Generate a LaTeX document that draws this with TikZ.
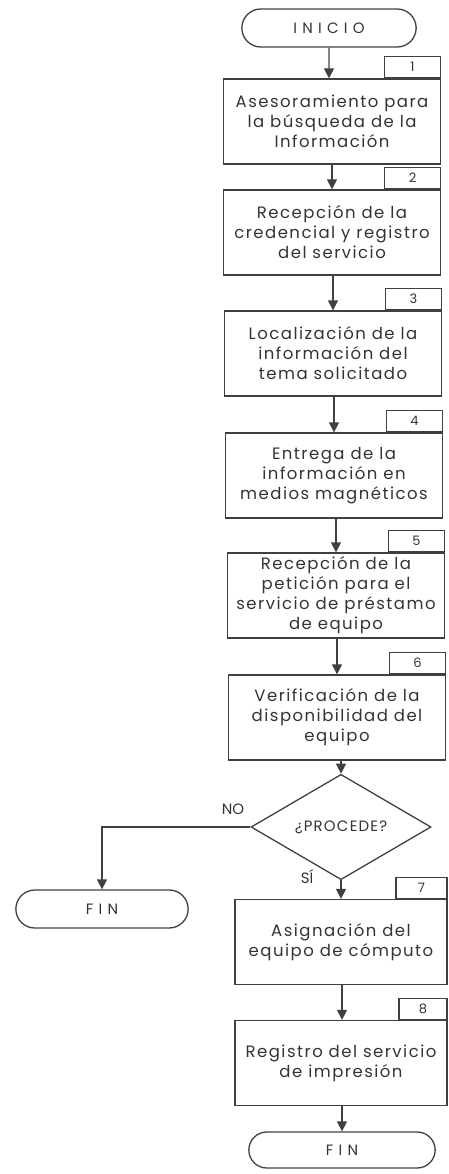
\documentclass[tikz,border=0pt]{standalone}
\usepackage{fontspec}
\setmainfont{Poppins}
\usetikzlibrary{arrows.meta,positioning,shapes.geometric,shapes.misc}

\tikzset{
    paso/.style={draw=black!75, line width=1.3pt, minimum width=217pt, minimum height=85pt,
        align=center, inner sep=1pt, text=black!80,
        font=\fontsize{16.5}{20}\selectfont\addfontfeatures{LetterSpace=9}},
    num/.style={draw=black!75, line width=1.3pt, minimum width=56pt, minimum height=21pt,
        anchor=south east, inner sep=0pt, text=black!80, font=\fontsize{13}{14}\selectfont},
    terminal/.style={rounded rectangle, draw=black!75, line width=1.3pt, minimum height=38pt,
        text=black!80, font=\fontsize{15}{16}\selectfont\addfontfeatures{LetterSpace=35}},
    decision/.style={diamond, draw=black!75, line width=1.3pt, minimum width=180pt,
        minimum height=77pt, inner sep=0pt, text=black!80,
        font=\fontsize{15}{16}\selectfont\addfontfeatures{LetterSpace=8}},
    flecha/.style={draw=black!75, line width=1.3pt, -{Triangle[width=10pt,length=10pt]}},
    rotulo/.style={text=black!80, font=\fontsize{15}{16}\selectfont}
}

\begin{document}
\begin{tikzpicture}[x=1pt,y=-1pt]
    \useasboundingbox (0,0) rectangle (448,1174);

    % Inicio
    \node[terminal, minimum width=181pt] (inicio) at (329,28) {INICIO};

    % Pasos 1 a 6
    \node[paso] (p1) at (332,121.5) {Asesoramiento para\\la búsqueda de la\\Información};
    \node[paso] (p2) at (332,232.5) {Recepción de la\\credencial y registro\\del servicio};
    \node[paso] (p3) at (333,353.5) {Localización de la\\información del\\tema solicitado};
    \node[paso] (p4) at (334,475.5) {Entrega de la\\información en\\medios magnéticos};
    \node[paso] (p5) at (336,595.5) {Recepción de la\\petición para el\\servicio de préstamo\\de equipo};
    \node[paso] (p6) at (337,717.5) {Verificación de la\\disponibilidad del\\equipo};

    % Decision
    \node[decision] (dec) at (341,827) {¿PROCEDE?};
    \node[terminal, minimum width=179pt] (fin1) at (102,909) {FIN};

    % Pasos 7 y 8
    \node[paso, minimum width=212pt] (p7) at (341,942) {Asignación del\\equipo de cómputo};
    \node[paso, minimum width=212pt] (p8) at (341,1063) {Registro del servicio\\de impresión};

    % Fin
    \node[terminal, minimum width=193pt, minimum height=36pt] (fin2) at (342,1150) {FIN};

    % Numeros
    \node[num] (n1) at (p1.north east) {1};
    \node[num] (n2) at (p2.north east) {2};
    \node[num] (n3) at (p3.north east) {3};
    \node[num] (n4) at (p4.north east) {4};
    \node[num] (n5) at (p5.north east) {5};
    \node[num] (n6) at (p6.north east) {6};
    \node[num, minimum width=51pt] (n7) at (p7.north east) {7};
    \node[num, minimum width=48pt] (n8) at (p8.north east) {8};

    % Flechas
    \draw[flecha] (inicio) -- (inicio |- p1.north);
    \draw[flecha] (p1.south -| p2) -- (p2.north);
    \draw[flecha] (p2.south -| p3) -- (p3.north);
    \draw[flecha] (p3.south -| p4) -- (p4.north);
    \draw[flecha] (p4.south -| p5) -- (p5.north);
    \draw[flecha] (p5.south -| p6) -- (p6.north);
    \draw[flecha] (p6.south -| dec) -- (dec.north);
    \draw[flecha] (dec.south) -- (p7.north -| dec);
    \draw[flecha] (dec.west) -| (fin1.north);
    \draw[flecha] (p7.south -| fin2) -- (fin2.north |- p8.north);
    \draw[flecha] (p8.south -| fin2) -- (fin2.north);

    % Rotulos
    \node[rotulo] (no) at (233,809) {NO};
    \node[rotulo] (si) at (307,877) {SÍ};
\end{tikzpicture}
\end{document}
